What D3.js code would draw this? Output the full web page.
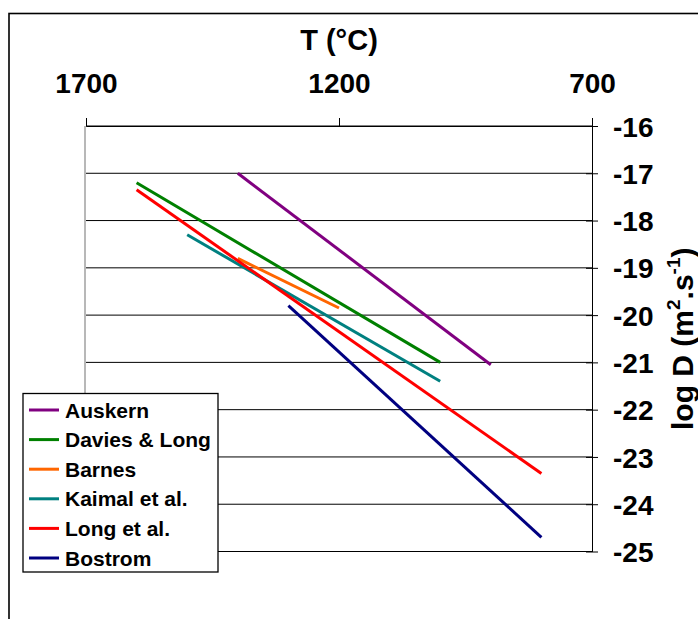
<!DOCTYPE html>
<html>
<head>
<meta charset="utf-8">
<script src="https://cdn.jsdelivr.net/npm/d3@7"></script>
<style>
  html, body { margin: 0; padding: 0; background: #fff; }
  svg { display: block; }
  text { font-family: "Liberation Sans", Arial, sans-serif; font-weight: bold; fill: #000; }
</style>
</head>
<body>
<svg id="chart" width="698" height="619"></svg>
<script>
// ---- data ----
const seriesNames = ["Auskern", "Davies & Long", "Barnes", "Kaimal et al.", "Long et al.", "Bostrom"];
const seriesColors = ["#800080", "#008000", "#FF6600", "#008080", "#FF0000", "#000080"];
const tStart = [1400, 1600, 1400, 1500, 1600, 1300];
const dStart = [-17.0, -17.2, -18.8, -18.3, -17.35, -19.8];
const tEnd   = [900, 1000, 1200, 1000, 800, 800];
const dEnd   = [-21.05, -21.0, -19.85, -21.4, -23.35, -24.7];
const tTicks = [1700, 1200, 700];
const dTicks = [-16, -17, -18, -19, -20, -21, -22, -23, -24, -25];

const svg = d3.select("#chart");
const FONT = "Liberation Sans, Arial, sans-serif";

// outer chart border
svg.append("rect").attr("x", 9).attr("y", 13.5).attr("width", 720).attr("height", 650)
  .attr("fill", "none").attr("stroke", "#000").attr("stroke-width", 1.6);

const x = d3.scaleLinear().domain([1700, 700]).range([86, 592]);
const y = d3.scaleLinear().domain([-16, -25]).range([126, 551.5]);

// gridlines
svg.append("g").selectAll("line").data(dTicks).join("line")
  .attr("x1", x(1700)).attr("x2", x(700))
  .attr("y1", d => y(d)).attr("y2", d => y(d))
  .attr("stroke", "#000").attr("stroke-width", 1);

// left plot border (gray)
svg.append("line").attr("x1", x(1700) - 1).attr("x2", x(1700) - 1)
  .attr("y1", y(-16)).attr("y2", y(-25))
  .attr("stroke", "#a0a0a0").attr("stroke-width", 1.5);

// top axis
const topAxis = d3.axisTop(x).tickValues(tTicks).tickSize(8).tickPadding(25).tickFormat(d => String(d));
const gTop = svg.append("g").attr("transform", `translate(0,${y(-16)})`).call(topAxis);
gTop.select(".domain").attr("stroke", "#000");
gTop.selectAll(".tick line").attr("stroke", "#000");
gTop.selectAll("text").attr("font-size", 28).attr("font-family", FONT)
  .attr("font-weight", "bold").attr("fill", "#000").attr("dy", "0");

// right axis
const rightAxis = d3.axisRight(y).tickValues(dTicks).tickSizeInner(6).tickSizeOuter(0).tickPadding(15)
  .tickFormat(d => String(d));
const gRight = svg.append("g").attr("transform", `translate(${x(700)},0)`).call(rightAxis);
gRight.select(".domain").attr("stroke", "#000");
gRight.selectAll(".tick line").attr("stroke", "#000").attr("x1", -6).attr("x2", 6);
gRight.selectAll("text").attr("font-size", 28).attr("font-family", FONT)
  .attr("font-weight", "bold").attr("fill", "#000").attr("dy", "0.36em");

// axis titles
svg.append("text").attr("x", x(1200)).attr("y", 50).attr("text-anchor", "middle")
  .attr("font-size", 29).text("T (°C)");

const yt = svg.append("text").attr("transform", `translate(693,${(y(-16) + y(-25)) / 2}) rotate(-90)`)
  .attr("text-anchor", "middle").attr("font-size", 30);
yt.append("tspan").text("log D (m");
yt.append("tspan").attr("font-size", 19).attr("dy", -13).text("2");
yt.append("tspan").attr("dy", 13).text(".s");
yt.append("tspan").attr("font-size", 19).attr("dy", -13).text("-1");
yt.append("tspan").attr("dy", 13).text(")");

// series lines
const idx = d3.range(seriesNames.length);
svg.append("g").selectAll("line").data(idx).join("line")
  .attr("x1", i => x(tStart[i])).attr("y1", i => y(dStart[i]))
  .attr("x2", i => x(tEnd[i])).attr("y2", i => y(dEnd[i]))
  .attr("stroke", i => seriesColors[i]).attr("stroke-width", 3);

// legend
const lg = svg.append("g");
lg.append("rect").attr("x", 23).attr("y", 393.5).attr("width", 195).attr("height", 178.5)
  .attr("fill", "#fff").attr("stroke", "#000").attr("stroke-width", 1.3);
const rowY = i => 410 + i * 29.6;
lg.selectAll("line").data(idx).join("line")
  .attr("x1", 29).attr("x2", 59).attr("y1", rowY).attr("y2", rowY)
  .attr("stroke", i => seriesColors[i]).attr("stroke-width", 3);
lg.selectAll("text").data(idx).join("text")
  .attr("x", 65).attr("y", i => rowY(i) + 7.5).attr("font-size", 21)
  .text(i => seriesNames[i]);
</script>
</body>
</html>
